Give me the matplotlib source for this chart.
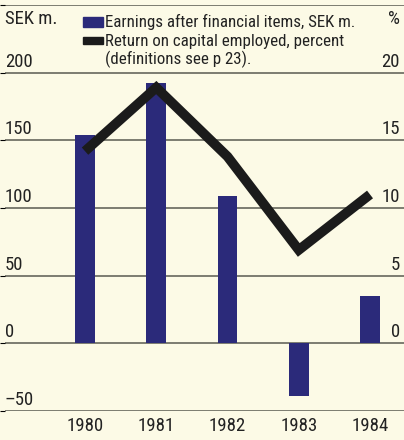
import matplotlib.pyplot as plt
from matplotlib.patches import Rectangle

YEARS = ["1980", "1981", "1982", "1983", "1984"]
EARNINGS = [154, 192, 109, -39, 35]        # SEK m., left axis
RETURN_PCT = [14.2, 18.9, 13.8, 6.9, 11.0]  # percent, right axis
LEFT_TICKS = [-50, 0, 50, 100, 150, 200]
RIGHT_TICKS = [0, 5, 10, 15, 20]

BG = "#fcfae6"
NAVY = "#2b2a7a"
INK = "#1b1b1b"
GRID = "#5a5a50"
TXT = "#222222"
FS = 13.5

plt.rcParams["font.family"] = ["Roboto Condensed", "DejaVu Sans"]

fig = plt.figure(figsize=(4.04, 4.40), dpi=100, facecolor=BG)
ax = fig.add_axes([5 / 404, 29 / 440, 399 / 404, 406 / 440])
ax.set_facecolor("none")

x = list(range(len(YEARS)))
ax.bar(x, EARNINGS, width=0.28, color=NAVY, zorder=2)
ax.set_xlim(-1.123, 4.477)
ax.set_ylim(-50, 250)

ax.set_yticks([-50, 0, 50, 100, 150, 200, 250])
ax.yaxis.grid(True, color=GRID, linewidth=1.1)
ax.set_axisbelow(True)
ax.tick_params(axis="y", left=False, labelleft=False)
ax.set_xticks(x, YEARS, fontsize=FS)
ax.tick_params(axis="x", length=0, pad=4, colors=TXT)
for s in ax.spines.values():
    s.set_visible(False)

ax2 = ax.twinx()
ax2.set_ylim(-5, 25)
ax2.plot(x, RETURN_PCT, color=INK, linewidth=7,
         solid_joinstyle="miter", solid_capstyle="butt", zorder=3)
ax2.set_yticks([])
for s in ax2.spines.values():
    s.set_visible(False)

# value labels sit just above their gridlines
for v in LEFT_TICKS:
    ax.text(0.0, v + 4.5, "\u201350" if v < 0 else str(v), transform=ax.get_yaxis_transform(),
            ha="left", va="baseline", fontsize=FS, color=TXT)
for v in RIGHT_TICKS:
    ax2.text(0.99, v + 0.45, str(v), transform=ax2.get_yaxis_transform(),
             ha="right", va="baseline", fontsize=FS, color=TXT)
ax.text(0.0, 236, "SEK m.", transform=ax.get_yaxis_transform(),
        ha="left", va="baseline", fontsize=FS, color=TXT)
ax.text(0.99, 236, "%", transform=ax.get_yaxis_transform(),
        ha="right", va="baseline", fontsize=FS, color=TXT)

# legend
fig.patches.append(Rectangle((83 / 404, 1 - 27 / 440), 20 / 404, 10 / 440,
                             transform=fig.transFigure, color=NAVY))
fig.patches.append(Rectangle((83 / 404, 1 - 44 / 440), 20 / 404, 7 / 440,
                             transform=fig.transFigure, color=INK))
leg = [("Earnings after financial items, SEK m.", 27),
       ("Return on capital employed, percent", 46),
       ("(definitions see p 23).", 64)]
for txt, ypx in leg:
    fig.text(105 / 404, 1 - ypx / 440, txt, ha="left", va="baseline",
             fontsize=12.2, color=TXT)

fig.savefig("out.png", dpi=100, facecolor=BG)
